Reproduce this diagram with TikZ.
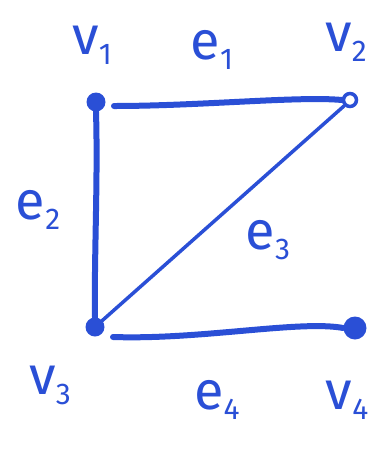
\documentclass[tikz,border=0pt]{standalone}
\usepackage{fontspec}
\setmainfont{Fira Sans}
\definecolor{ink}{HTML}{2A4FD6}
\newcommand{\lab}[2]{#1\raisebox{-0.35ex}{\fontsize{30}{32}\selectfont #2}}
\begin{document}
\begin{tikzpicture}[x=1pt,y=-1pt,
  lbl/.style={text=ink,font=\fontsize{54}{58}\selectfont,inner sep=0pt},
  edge/.style={draw=ink,line width=6pt,line cap=round},
  vfill/.style={circle,fill=ink,inner sep=0pt,minimum size=#1},
  vring/.style={circle,draw=ink,line width=3.5pt,fill=white,inner sep=0pt,minimum size=13pt}]
\useasboundingbox (0,0) rectangle (386,451);
\node[vfill=19pt] (v1) at (96,102) {};
\node[vring] (v2) at (350,100) {};
\node[vfill=19pt] (v3) at (95,327) {};
\node[vfill=23pt] (v4) at (355,328) {};
\draw[edge] (v1.center) ++(18,4) coordinate (a1) (a1) .. controls (200,106) and (300,96) .. (v2.west);
\draw[edge] (v1.south) .. controls (98,180) and (94,260) .. (v3.north);
\draw[draw=ink,line width=3.5pt,line cap=round] (v3.center) -- (v2.south west);
\draw[edge] (v3.center) ++(18,10) coordinate (a3) (a3) .. controls (200,340) and (300,320) .. (v4.west);
\node[lbl] (l1) at (92,45) {\lab{v}{1}};
\node[lbl] (le1) at (212,50) {\lab{e}{1}};
\node[lbl] (l2) at (346,42) {\lab{v}{2}};
\node[lbl] (le2) at (38,210) {\lab{e}{2}};
\node[lbl] (le3) at (268,240) {\lab{e}{3}};
\node[lbl] (l3) at (50,385) {\lab{v}{3}};
\node[lbl] (le4) at (217,400) {\lab{e}{4}};
\node[lbl] (l4) at (347,400) {\lab{v}{4}};
\end{tikzpicture}
\end{document}
